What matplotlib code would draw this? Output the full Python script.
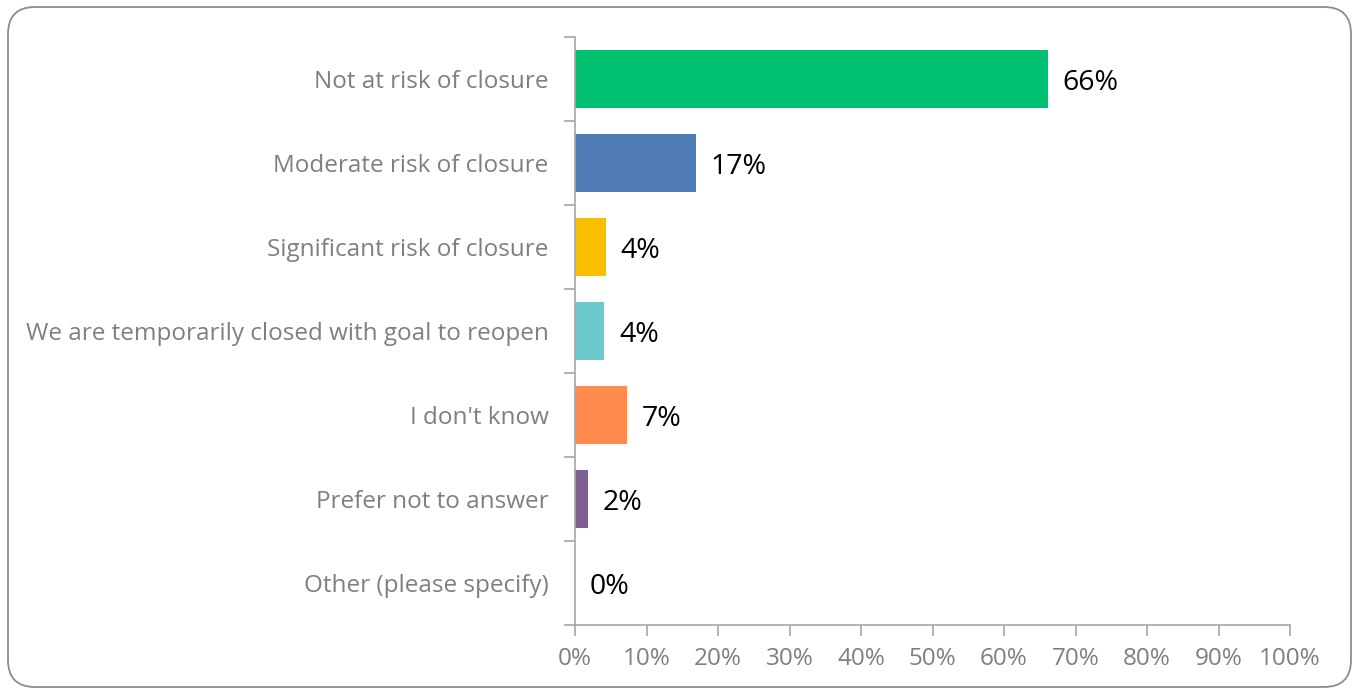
import numpy as np
import matplotlib.pyplot as plt
from matplotlib.patches import FancyBboxPatch

plt.rcParams['font.family'] = ['Open Sans', 'DejaVu Sans']

categories = [
    "Not at risk of closure",
    "Moderate risk of closure",
    "Significant risk of closure",
    "We are temporarily closed with goal to reopen",
    "I don't know",
    "Prefer not to answer",
    "Other (please specify)",
]
values = [66.1, 16.9, 4.3, 4.1, 7.3, 1.8, 0.0]
colors = ['#00BF6F', '#507CB6', '#F9BE00', '#6BC8CD', '#FF8B4F', '#7D5E90', '#999999']
x_ticks = list(range(0, 101, 10))

axis_grey = '#A6A6A6'
text_grey = '#7F7F7F'

fig = plt.figure(figsize=(13.53, 6.89), dpi=100)

# rounded frame around the whole chart (inches)
frame = FancyBboxPatch((0.08, 0.02), 13.43, 6.80,
                       boxstyle="round,pad=0,rounding_size=0.27",
                       transform=fig.dpi_scale_trans, facecolor='none',
                       edgecolor='#8C8C8C', linewidth=1.3, zorder=-1)
fig.patches.append(frame)

ax = fig.add_axes([575 / 1353, 1 - 625 / 689, 715 / 1353, 588 / 689])
ax.set_facecolor('none')

y = np.arange(len(categories))
ax.barh(y, values, height=0.68, color=colors)

for yi, v in zip(y, values):
    ax.text(v + 2.1, yi, f"{v:.0f}%", va='center_baseline', ha='left',
            fontsize=20.5, color='black')

ax.set_xlim(0, 100)
ax.set_ylim(len(categories) - 0.5, -0.5)

ax.set_xticks(x_ticks)
ax.set_xticklabels([f"{t}%" for t in x_ticks], fontsize=17.5, color=text_grey)
ax.tick_params(axis='x', length=8, width=1.2, color=axis_grey, pad=8)

ax.set_yticks(y)
ax.set_yticklabels(categories, fontsize=17.5, color=text_grey)
ax.tick_params(axis='y', which='major', length=0, pad=19)
ax.set_yticks(np.arange(-0.5, len(categories)), minor=True)
ax.tick_params(axis='y', which='minor', length=8, width=1.2, color=axis_grey)

for side in ['top', 'right']:
    ax.spines[side].set_visible(False)
for side in ['left', 'bottom']:
    ax.spines[side].set_color(axis_grey)
    ax.spines[side].set_linewidth(1.2)

fig.savefig('out.png', dpi=100)
